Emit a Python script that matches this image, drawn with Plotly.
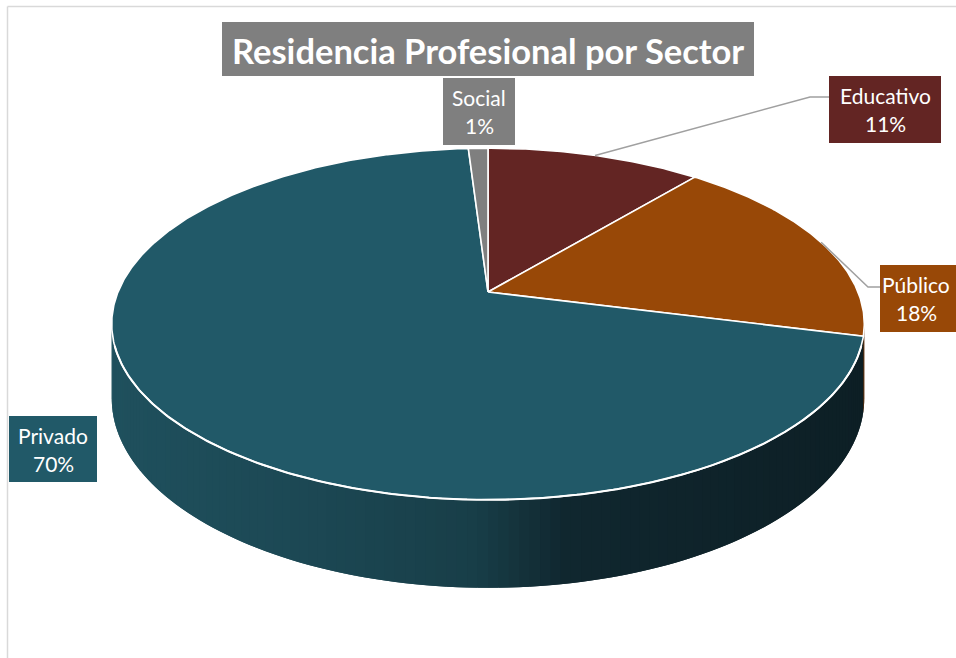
import numpy as np
import plotly.graph_objects as go

# ---------------- data ----------------
sectors = ["Educativo", "Público", "Privado", "Social"]
values = [11, 18, 70, 1]
title_text = "Residencia Profesional por Sector"

# ---------------- styles ----------------
top_colors = {"Educativo": "#632523", "Público": "#984807",
              "Privado": "#215968", "Social": "#7f7f7f"}
side_dark = {"Educativo": "#3a1514", "Público": "#5a2a04",
             "Privado": "#163c46", "Social": "#4a4a4a"}
FONT = "Lato"

# projection parameters (pixel space, y downward)
CX, CY, A, B, P, H = 488, 292, 370, 170, 0.182, 72


def proj(phi_deg, z=0.0):
    phi = np.radians(phi_deg)
    X = np.sin(phi)
    Y = np.cos(phi)
    w = 1 + P * Y
    return CX + A * X / w, CY - B * Y / w + H * z / w


total = float(sum(values))
cum = np.concatenate([[0.0], np.cumsum(values)]) / total * 360.0


def slice_of(phi):
    for i in range(len(values)):
        if cum[i] <= phi < cum[i + 1]:
            return i
    return len(values) - 1


def privado_side(x):
    stops = [(112, (31, 80, 93)), (300, (28, 72, 84)), (470, (24, 62, 72)),
             (560, (16, 39, 47)), (865, (13, 31, 37))]
    if x <= stops[0][0]:
        c = stops[0][1]
    elif x >= stops[-1][0]:
        c = stops[-1][1]
    else:
        for (x0, c0), (x1, c1) in zip(stops[:-1], stops[1:]):
            if x0 <= x <= x1:
                t = (x - x0) / (x1 - x0)
                c = tuple(c0[k] + (c1[k] - c0[k]) * t for k in range(3))
                break
    return "rgb(%d,%d,%d)" % tuple(int(round(v)) for v in c)


fig = go.Figure()

# ---------- side wall (overlapping strips to hide seams) ----------
phi_r = np.degrees(np.arccos(-P))
phi_l = 360 - phi_r
edges = np.linspace(phi_r, phi_l, 121)
step = edges[1] - edges[0]
for k, (a0, a1) in enumerate(zip(edges[:-1], edges[1:])):
    mid = 0.5 * (a0 + a1)
    idx = slice_of(mid)
    a1e = min(a1 + step, phi_l) if k < len(edges) - 2 else a1
    sub = np.linspace(a0, a1e, 4)
    xt, yt = proj(sub)
    xb, yb = proj(sub[::-1], 1)
    if sectors[idx] == "Privado":
        col = privado_side(float(np.mean(xt)))
    else:
        col = side_dark[sectors[idx]]
    xs = np.concatenate([xt, xb, xt[:1]])
    ys = np.concatenate([yt, yb, yt[:1]])
    fig.add_trace(go.Scatter(x=xs, y=ys, mode="lines", fill="toself", fillcolor=col,
                             line=dict(color=col, width=0), hoverinfo="skip"))

# ---------- top slices ----------
for i, name in enumerate(sectors):
    n = max(int(np.ceil((cum[i + 1] - cum[i]) / 0.5)), 2)
    angs = np.linspace(cum[i], cum[i + 1], n + 1)
    xs, ys = proj(angs)
    xs = np.concatenate([[CX], xs, [CX]])
    ys = np.concatenate([[CY], ys, [CY]])
    fig.add_trace(go.Scatter(x=xs, y=ys, mode="lines", fill="toself",
                             fillcolor=top_colors[name],
                             line=dict(color="white", width=1.6), hoverinfo="skip"))

# ---------- white rim ----------
rim = np.linspace(phi_r + 7, phi_l - 7, 300)
rx, ry = proj(rim)
fig.add_trace(go.Scatter(x=rx, y=ry, mode="lines", line=dict(color="white", width=2),
                         hoverinfo="skip"))

# ---------- leader lines ----------
mids = 0.5 * (cum[:-1] + cum[1:])
elbows = {"Educativo": [(810, 97), (829, 97)], "Público": [(868, 287), (880, 287)]}
for name, pts in elbows.items():
    i = sectors.index(name)
    sx, sy = proj(mids[i])
    fig.add_trace(go.Scatter(x=[sx] + [p[0] for p in pts], y=[sy] + [p[1] for p in pts],
                             mode="lines", line=dict(color="#a0a0a0", width=1.5),
                             hoverinfo="skip"))

# ---------- label boxes ----------
boxes = {
    "Social": (443, 515, 78, 145),
    "Educativo": (829, 941, 76, 143),
    "Público": (880, 975, 265, 332),
    "Privado": (9, 97, 416, 482),
}
text_cx = {"Social": 479, "Educativo": 885, "Público": 916, "Privado": 53}
shapes = []
annotations = []
for i, name in enumerate(sectors):
    x0, x1, y0, y1 = boxes[name]
    shapes.append(dict(type="rect", xref="x", yref="y", x0=x0, x1=x1, y0=y0, y1=y1,
                       fillcolor=top_colors[name], line=dict(width=0), layer="above"))
    pct = "%d%%" % round(values[i] / total * 100)
    ym = 0.5 * (y0 + y1)
    for txt, yy in ((name, ym - 14), (pct, ym + 14)):
        annotations.append(dict(x=text_cx[name], y=yy, xref="x", yref="y", text=txt,
                                showarrow=False, xanchor="center", yanchor="middle",
                                font=dict(family=FONT, size=21, color="white")))

# title
shapes.append(dict(type="rect", xref="x", yref="y", x0=222, x1=754, y0=22, y1=76,
                   fillcolor="#7f7f7f", line=dict(width=0), layer="above"))
annotations.append(dict(x=488, y=50, xref="x", yref="y", text="<b>%s</b>" % title_text,
                        showarrow=False, xanchor="center", yanchor="middle",
                        font=dict(family=FONT, size=34.5, color="white")))

# chart border
shapes.append(dict(type="line", xref="x", yref="y", x0=7.5, x1=7.5, y0=6.5, y1=700,
                   line=dict(color="#d9d9d9", width=1.5)))
shapes.append(dict(type="line", xref="x", yref="y", x0=7.5, x1=1000, y0=6.5, y1=6.5,
                   line=dict(color="#d9d9d9", width=1.5)))

fig.update_layout(
    width=956, height=658,
    margin=dict(l=0, r=0, t=0, b=0),
    paper_bgcolor="white", plot_bgcolor="white",
    showlegend=False,
    xaxis=dict(range=[0, 956], visible=False, fixedrange=True),
    yaxis=dict(range=[658, 0], visible=False, fixedrange=True),
    shapes=shapes, annotations=annotations,
)

fig.write_html("out.html", config={"displayModeBar": False},
               post_script="document.body.style.margin='0';document.body.style.overflow='hidden';")
